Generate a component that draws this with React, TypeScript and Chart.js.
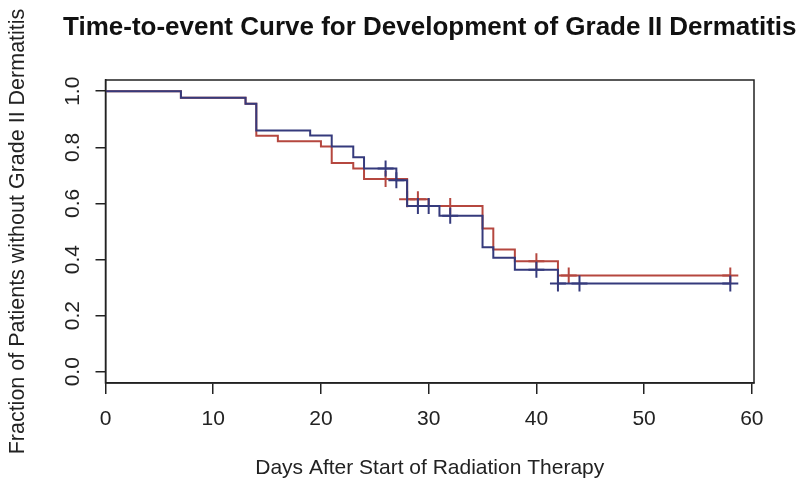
import React, { useEffect, useRef } from 'react';
import { Chart, registerables } from 'chart.js';

Chart.register(...registerables);

// Kaplan-Meier steps (day the step starts, survival after it)
const redDays = [0, 7, 13, 14, 16, 20, 21, 23, 24, 28, 30, 35, 36, 38, 42];
const redSurv = [1, 0.977, 0.955, 0.841, 0.822, 0.803, 0.744, 0.725, 0.687, 0.615, 0.591, 0.511, 0.436, 0.394, 0.343];
const blueDays = [0, 7, 13, 14, 19, 21, 23, 24, 27, 28, 31, 35, 36, 38, 42];
const blueSurv = [1, 0.977, 0.955, 0.86, 0.842, 0.803, 0.765, 0.725, 0.683, 0.591, 0.556, 0.444, 0.406, 0.364, 0.315];

// censored observations (the "+" marks)
const redCensor = [26, 28, 29, 32, 40, 43, 58];
const blueCensor = [26, 27, 29, 30, 32, 40, 42, 44, 58];
const lastDay = 58;

const xTicks = [0, 10, 20, 30, 40, 50, 60];
const yTicks = [0, 0.2, 0.4, 0.6, 0.8, 1.0];

const RED = '#b5473f';
const BLUE = '#353a7c';
const INK = '#222';
const FONT = '"Liberation Sans", Arial, Helvetica, sans-serif';

const stepPoints = (days: number[], surv: number[]) => {
  const pts = days.map((d, i) => ({ x: d, y: surv[i] }));
  pts.push({ x: lastDay, y: surv[surv.length - 1] });
  return pts;
};

const survAt = (days: number[], surv: number[], t: number) => {
  let s = surv[0];
  days.forEach((d, i) => {
    if (d <= t) s = surv[i];
  });
  return s;
};

const censorPoints = (times: number[], days: number[], surv: number[]) =>
  times.map((t) => ({ x: t, y: survAt(days, surv, t) }));

// R-style box around the plot region plus a title centred over it
const framePlugin = {
  id: 'frame',
  afterDraw(chart: Chart) {
    const { ctx, chartArea } = chart;
    ctx.save();
    ctx.strokeStyle = INK;
    ctx.lineWidth = 1.5;
    ctx.strokeRect(chartArea.left, chartArea.top, chartArea.right - chartArea.left, chartArea.bottom - chartArea.top);
    ctx.fillStyle = '#111';
    ctx.font = `bold 26px ${FONT}`;
    ctx.textAlign = 'center';
    ctx.textBaseline = 'middle';
    ctx.fillText('Time-to-event Curve for Development of Grade II Dermatitis', (chartArea.left + chartArea.right) / 2, 28);
    ctx.restore();
  },
};

const KMChart: React.FC = () => {
  const canvasRef = useRef<HTMLCanvasElement>(null);
  const chartRef = useRef<Chart | null>(null);

  useEffect(() => {
    document.body.style.margin = '0';
    if (!canvasRef.current) return;
    const ctx = canvasRef.current.getContext('2d');
    if (!ctx) return;

    const lineSet = (data: { x: number; y: number }[], color: string) => ({
      type: 'line' as const,
      data,
      borderColor: color,
      borderWidth: 2,
      stepped: 'before' as const,
      pointRadius: 0,
      fill: false,
    });
    const crossSet = (data: { x: number; y: number }[], color: string) => ({
      type: 'scatter' as const,
      data,
      pointStyle: 'cross' as const,
      pointRadius: 8,
      pointBorderWidth: 2,
      borderColor: color,
      showLine: false,
    });

    chartRef.current = new Chart(ctx, {
      type: 'line',
      data: {
        datasets: [
          lineSet(stepPoints(blueDays, blueSurv), BLUE),
          crossSet(censorPoints(blueCensor, blueDays, blueSurv), BLUE),
          lineSet(stepPoints(redDays, redSurv), RED),
          crossSet(censorPoints(redCensor, redDays, redSurv), RED),
        ],
      },
      options: {
        animation: false,
        responsive: false,
        maintainAspectRatio: false,
        layout: { padding: { top: 80, right: 46, left: 0, bottom: 0 } },
        plugins: {
          legend: { display: false },
          tooltip: { enabled: false },
        },
        scales: {
          x: {
            type: 'linear',
            min: 0,
            max: 60.2,
            afterBuildTicks: (scale: any) => {
              scale.ticks = xTicks.map((v) => ({ value: v }));
            },
            afterFit: (scale: any) => {
              scale.height = 104;
            },
            grid: { drawOnChartArea: false, tickLength: 11, tickColor: INK, lineWidth: 1.5 },
            border: { color: INK, width: 1.5 },
            ticks: {
              color: INK,
              padding: 13,
              maxRotation: 0,
              font: { family: FONT, size: 21 },
            },
            title: {
              display: true,
              text: 'Days After Start of Radiation Therapy',
              color: INK,
              font: { family: FONT, size: 21 },
              padding: { top: 0, bottom: 6 },
            },
          },
          y: {
            type: 'linear',
            min: -0.04,
            max: 1.04,
            afterBuildTicks: (scale: any) => {
              scale.ticks = yTicks.map((v) => ({ value: v }));
            },
            afterFit: (scale: any) => {
              scale.width = 105.5;
            },
            grid: { drawOnChartArea: false, tickLength: 10, tickColor: INK, lineWidth: 1.5 },
            border: { color: INK, width: 1.5 },
            ticks: {
              color: INK,
              padding: 8,
              minRotation: 90,
              maxRotation: 90,
              crossAlign: 'center',
              font: { family: FONT, size: 21 },
              callback: (v: any) => Number(v).toFixed(1),
            },
            title: {
              display: true,
              text: 'Fraction of Patients without Grade II Dermatitis',
              color: INK,
              font: { family: FONT, size: 21.5 },
              padding: { top: 5, bottom: 0 },
            },
          },
        },
      },
      plugins: [framePlugin],
    });

    return () => {
      if (chartRef.current) {
        chartRef.current.destroy();
        chartRef.current = null;
      }
    };
  }, []);

  return (
    <div style={{ width: '800px', height: '487px', background: '#fff' }}>
      <canvas ref={canvasRef} width={800} height={487} style={{ width: '800px', height: '487px' }}></canvas>
    </div>
  );
};

export default function App() {
  return <KMChart />;
}
